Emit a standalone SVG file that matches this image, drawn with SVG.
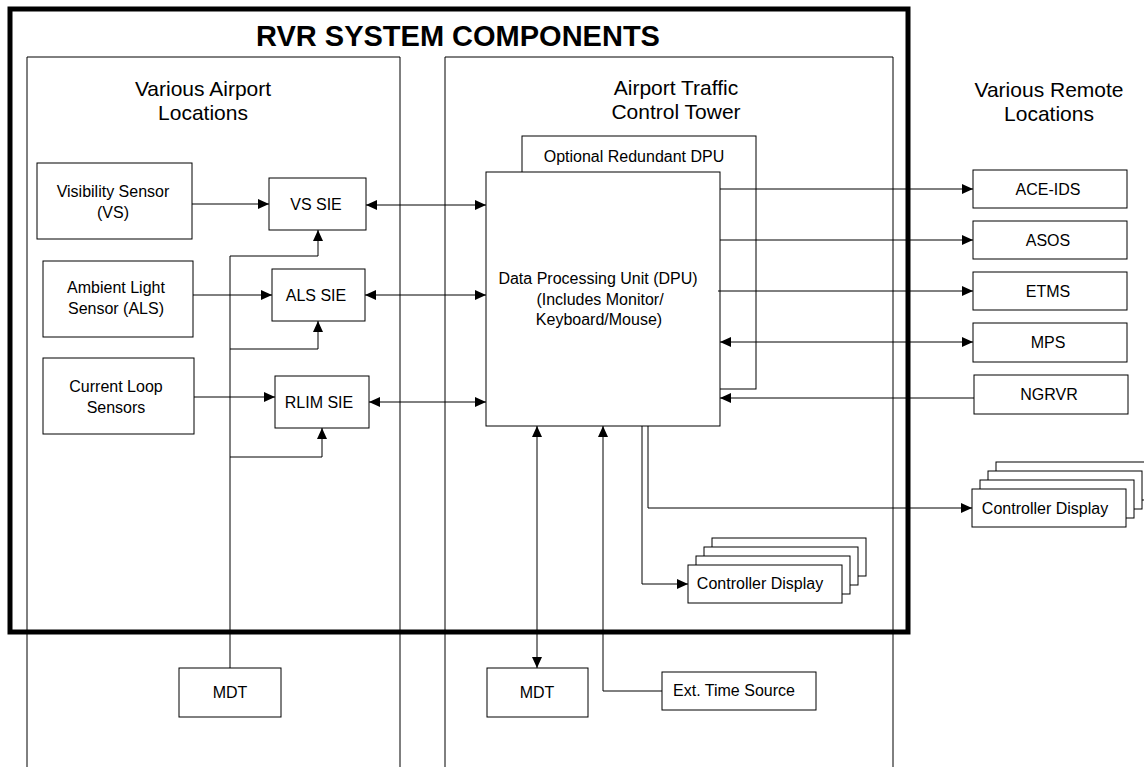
<svg xmlns="http://www.w3.org/2000/svg" width="1144" height="767" viewBox="0 0 1144 767">
<style>
text{font-family:"Liberation Sans",Arial,sans-serif;fill:#000;text-anchor:middle}
.t{font-size:16px}
.h{font-size:21px}
.title{font-size:29px;font-weight:bold}
.box{fill:#fff;stroke:#000;stroke-width:1}
.panel{fill:none;stroke:#000;stroke-width:1}
.c{fill:none;stroke:#000;stroke-width:1}
</style>
<defs>
<marker id="ah" viewBox="0 0 11 10" refX="11" refY="5" markerWidth="11" markerHeight="10" markerUnits="userSpaceOnUse" orient="auto-start-reverse"><path d="M0,0 L11,5 L0,10 z" fill="#000"/></marker>
</defs>
<rect width="1144" height="767" fill="#fff"/>
<g id="panels">
<path class="panel" d="M27,767 V57 H400 V767"/>
<path class="panel" d="M445,767 V57 H893 V767"/>
</g>
<g id="headers">
<text class="title" x="458" y="46">RVR SYSTEM COMPONENTS</text>
<text class="h" x="203" y="96">Various Airport</text>
<text class="h" x="203" y="120">Locations</text>
<text class="h" x="676" y="95">Airport Traffic</text>
<text class="h" x="676" y="119">Control Tower</text>
<text class="h" x="1049" y="97">Various Remote</text>
<text class="h" x="1049" y="121">Locations</text>
</g>
<g id="vs">
<rect class="box" x="37" y="163" width="155" height="76"/>
<text class="t" x="113" y="197">Visibility Sensor</text>
<text class="t" x="113" y="218">(VS)</text>
</g>
<g id="als">
<rect class="box" x="43" y="261" width="150" height="76"/>
<text class="t" x="116" y="293">Ambient Light</text>
<text class="t" x="116" y="314">Sensor (ALS)</text>
</g>
<g id="cls">
<rect class="box" x="43" y="358" width="151" height="76"/>
<text class="t" x="116" y="392">Current Loop</text>
<text class="t" x="116" y="413">Sensors</text>
</g>
<g id="vssie">
<rect class="box" x="269" y="178" width="97" height="52"/>
<text class="t" x="316" y="210">VS SIE</text>
</g>
<g id="alssie">
<rect class="box" x="272" y="269" width="93" height="52"/>
<text class="t" x="316" y="301">ALS SIE</text>
</g>
<g id="rlimsie">
<rect class="box" x="275" y="376" width="94" height="52"/>
<text class="t" x="319" y="408">RLIM SIE</text>
</g>
<g id="rdpu">
<rect class="box" x="522" y="136" width="234" height="253"/>
<text class="t" x="634" y="162">Optional Redundant DPU</text>
</g>
<g id="dpu">
<rect class="box" x="486" y="172" width="234" height="254"/>
<text class="t" x="598" y="284">Data Processing Unit (DPU)</text>
<text class="t" x="600" y="305">(Includes Monitor/</text>
<text class="t" x="599" y="325">Keyboard/Mouse)</text>
</g>
<g id="aceids">
<rect class="box" x="973" y="170" width="154" height="38"/>
<text class="t" x="1048" y="195">ACE-IDS</text>
</g>
<g id="asos">
<rect class="box" x="973" y="221" width="154" height="38"/>
<text class="t" x="1048" y="246">ASOS</text>
</g>
<g id="etms">
<rect class="box" x="973" y="272" width="154" height="38"/>
<text class="t" x="1048" y="297">ETMS</text>
</g>
<g id="mps">
<rect class="box" x="973" y="323" width="154" height="39"/>
<text class="t" x="1048" y="348">MPS</text>
</g>
<g id="ngrvr">
<rect class="box" x="974" y="375" width="154" height="39"/>
<text class="t" x="1049" y="400">NGRVR</text>
</g>
<g id="cd-remote">
<rect class="box" x="996" y="462" width="154" height="38"/>
<rect class="box" x="988" y="471" width="154" height="38"/>
<rect class="box" x="980" y="480" width="154" height="38"/>
<rect class="box" x="972" y="489" width="154" height="38"/>
<text class="t" x="1045" y="514">Controller Display</text>
</g>
<g id="cd-tower">
<rect class="box" x="712" y="538" width="154" height="38"/>
<rect class="box" x="704" y="547" width="154" height="38"/>
<rect class="box" x="696" y="556" width="154" height="38"/>
<rect class="box" x="688" y="565" width="154" height="38"/>
<text class="t" x="760" y="589">Controller Display</text>
</g>
<g id="mdt-airport">
<rect class="box" x="179" y="668" width="102" height="49"/>
<text class="t" x="230" y="698">MDT</text>
</g>
<g id="mdt-tower">
<rect class="box" x="487" y="668" width="101" height="49"/>
<text class="t" x="537" y="698">MDT</text>
</g>
<g id="ets">
<rect class="box" x="662" y="672" width="154" height="38"/>
<text class="t" x="734" y="696">Ext. Time Source</text>
</g>
<g id="connectors">
<path class="c" d="M192,204 H269" marker-end="url(#ah)"/>
<path class="c" d="M193,295 H272" marker-end="url(#ah)"/>
<path class="c" d="M194,397 H275" marker-end="url(#ah)"/>
<path class="c" d="M366,205 H486" marker-start="url(#ah)" marker-end="url(#ah)"/>
<path class="c" d="M365,295 H486" marker-start="url(#ah)" marker-end="url(#ah)"/>
<path class="c" d="M369,402 H486" marker-start="url(#ah)" marker-end="url(#ah)"/>
<path class="c" d="M230,668 V256 H318 V230" marker-end="url(#ah)"/>
<path class="c" d="M230,349 H318 V321" marker-end="url(#ah)"/>
<path class="c" d="M230,457 H322 V428" marker-end="url(#ah)"/>
<path class="c" d="M720,189 H973" marker-end="url(#ah)"/>
<path class="c" d="M720,240 H973" marker-end="url(#ah)"/>
<path class="c" d="M718,291 H973" marker-end="url(#ah)"/>
<path class="c" d="M720,342 H973" marker-start="url(#ah)" marker-end="url(#ah)"/>
<path class="c" d="M974,398 H720" marker-end="url(#ah)"/>
<path class="c" d="M537,426 V668" marker-start="url(#ah)" marker-end="url(#ah)"/>
<path class="c" d="M662,691 H603 V426" marker-end="url(#ah)"/>
<path class="c" d="M648,426 V508 H972" marker-end="url(#ah)"/>
<path class="c" d="M642,426 V584 H688" marker-end="url(#ah)"/>
</g>
<g id="system-border">
<rect x="10" y="9" width="898" height="623" fill="none" stroke="#000" stroke-width="5"/>
</g>
</svg>
